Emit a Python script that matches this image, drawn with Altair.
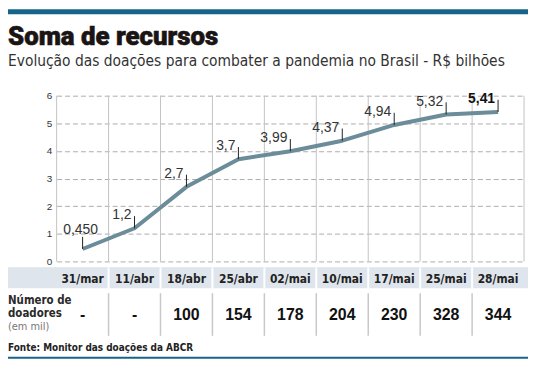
import altair as alt
import pandas as pd

# ---- data ----
dates = ["31/mar", "11/abr", "18/abr", "25/abr", "02/mai", "10/mai", "17/mai", "25/mai", "28/mai"]
values = [0.45, 1.2, 2.7, 3.7, 3.99, 4.37, 4.94, 5.32, 5.41]
value_labels = ["0,450", "1,2", "2,7", "3,7", "3,99", "4,37", "4,94", "5,32", "5,41"]
donors = [None, None, 100, 154, 178, 204, 230, 328, 344]
y_ticks = [0, 1, 2, 3, 4, 5, 6]

title_text = "Soma de recursos"
subtitle_text = "Evolução das doações para combater a pandemia no Brasil - R$ bilhões"
source_text = "Fonte: Monitor das doações  da ABCR"
row_label_1 = "Número de"
row_label_2 = "doadores"
row_unit = "(em mil)"

W, H = 471, 167
NARROW = "Liberation Sans Narrow, Arial Narrow, DejaVu Sans Condensed, sans-serif"
SANS = "Liberation Sans, Arial, sans-serif"
LINE_COLOR = "#6b8c99"
BLUE = "#176489"

df = pd.DataFrame({
    "date": dates,
    "value": values,
    "label": value_labels,
    "donors": pd.array(donors, dtype="object"),
    "idx": list(range(len(dates))),
})
one = pd.DataFrame({"k": [0]})

xscale = alt.Scale(type="band", domain=dates, paddingInner=0, paddingOuter=0)
X = alt.X("date:N", scale=xscale, axis=None)
Xb = alt.X("date:N", scale=xscale, axis=None, bandPosition=0)
yscale = alt.Scale(domain=[0, 6], nice=False)
yaxis = alt.Axis(values=y_ticks, tickCount=7, grid=True, gridDash=[5, 3], gridColor="#acacac",
                 gridWidth=1, domain=False, ticks=False, labelPadding=5,
                 labelFontSize=10, labelColor="#333", labelFont=SANS, title=None)
Y = alt.Y("value:Q", scale=yscale, axis=yaxis)

base = alt.Chart(df)

# vertical grid lines at band boundaries
vgrid = base.mark_rule(color="#c4c4c4", strokeWidth=1).encode(
    x=Xb, y=alt.value(0), y2=alt.value(H)
)
vgrid_right = alt.Chart(one).mark_rule(color="#c4c4c4", strokeWidth=1).encode(
    x=alt.value(W), y=alt.value(0), y2=alt.value(H)
)

line = base.mark_line(color=LINE_COLOR, strokeWidth=4, strokeJoin="round").encode(x=X, y=Y)

leaders = base.transform_calculate(top="datum.value + 0.44").mark_rule(
    color="#222", strokeWidth=1
).encode(x=X, y=Y, y2="top:Q")

lab_first = base.transform_filter("datum.idx == 0").mark_text(
    align="center", baseline="alphabetic", dx=-2, dy=-15, fontSize=14, font=SANS, color="#333"
).encode(x=X, y=Y, text="label:N")

lab_mid = base.transform_filter("datum.idx > 0 && datum.idx < 8").mark_text(
    align="right", baseline="alphabetic", dx=-3, dy=-9, fontSize=14, font=SANS, color="#333"
).encode(x=X, y=Y, text="label:N")

lab_last = base.transform_filter("datum.idx == 8").mark_text(
    align="right", baseline="alphabetic", dx=-3, dy=-9, fontSize=14, font=SANS,
    fontWeight="bold", color="#111"
).encode(x=X, y=Y, text="label:N")

# ---- table ----
header_bg = alt.Chart(one).mark_rect(color="#dfe5ec").encode(
    x=alt.value(-49), x2=alt.value(W + 4), y=alt.value(173), y2=alt.value(194)
)
header_sep = base.transform_filter("datum.idx > 0").mark_rule(color="white", strokeWidth=2).encode(
    x=Xb, y=alt.value(173), y2=alt.value(194)
)
header_txt = base.mark_text(font=NARROW, fontSize=12, fontWeight="bold", color="#222",
                            baseline="alphabetic").encode(
    x=X, y=alt.value(189), text="date:N"
)
row_sep = base.transform_filter("datum.idx > 0").mark_rule(color="#c8c8c8", strokeWidth=1.5).encode(
    x=Xb, y=alt.value(199), y2=alt.value(242)
)
donor_txt = base.transform_calculate(
    dl="isValid(datum.donors) ? format(datum.donors, 'd') : '-'"
).mark_text(font=SANS, fontSize=16, fontWeight="bold", color="#111", baseline="alphabetic").encode(
    x=X, y=alt.value(226), text="dl:N"
)
row_l1 = alt.Chart(one).mark_text(text=row_label_1, font=NARROW, fontSize=11.5, fontWeight="bold",
                                  color="#2a2a2a", align="left", baseline="alphabetic").encode(
    x=alt.value(-49), y=alt.value(210))
row_l2 = alt.Chart(one).mark_text(text=row_label_2, font=NARROW, fontSize=11.5, fontWeight="bold",
                                  color="#2a2a2a", align="left", baseline="alphabetic").encode(
    x=alt.value(-49), y=alt.value(223))
row_l3 = alt.Chart(one).mark_text(text=row_unit, font=NARROW, fontSize=11, color="#777",
                                  align="left", baseline="alphabetic").encode(
    x=alt.value(-49), y=alt.value(236))

# ---- titles & decorations ----
top_bar = alt.Chart(one).mark_rect(color=BLUE).encode(
    x=alt.value(-49), x2=alt.value(W + 4), y=alt.value(-87), y2=alt.value(-82)
)
title = alt.Chart(one).mark_text(text=title_text, font="Roboto, " + SANS, fontSize=26,
                                 fontWeight=900, color="#1a1414", stroke="#1a1414",
                                 strokeWidth=0.6, align="left",
                                 baseline="alphabetic").encode(
    x=alt.value(-49), y=alt.value(-51))
subtitle = alt.Chart(one).mark_text(text=subtitle_text, font=NARROW, fontSize=15.5,
                                    color="#333", align="left", baseline="alphabetic").encode(
    x=alt.value(-49), y=alt.value(-30))
source = alt.Chart(one).mark_text(text=source_text, font=NARROW, fontSize=10, fontWeight="bold",
                                  color="#222", align="left", baseline="alphabetic").encode(
    x=alt.value(-49), y=alt.value(257))
bottom_bar = alt.Chart(one).mark_rect(color=BLUE).encode(
    x=alt.value(-49), x2=alt.value(W + 4), y=alt.value(263), y2=alt.value(265)
)

chart = alt.layer(
    vgrid, vgrid_right, line, leaders, lab_first, lab_mid, lab_last,
    header_bg, header_sep, header_txt, row_sep, donor_txt, row_l1, row_l2, row_l3,
    top_bar, title, subtitle, source, bottom_bar,
).properties(
    width=W, height=H,
    padding={"left": 49, "top": 87, "right": 6, "bottom": 99},
    autosize=alt.AutoSizeParams(type="none"),
    background="white",
).configure_view(stroke=None)

chart.save("out.html", embed_options={"renderer": "svg", "actions": False})
